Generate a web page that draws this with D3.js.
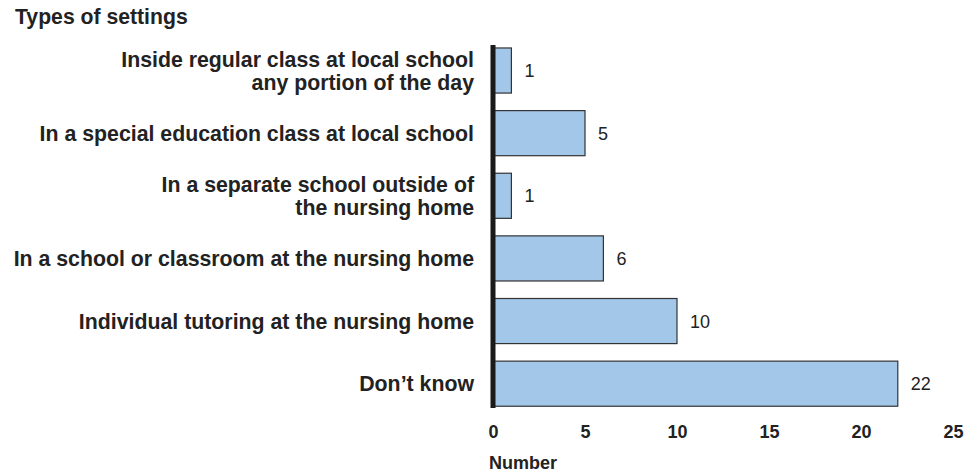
<!DOCTYPE html>
<html>
<head>
<meta charset="utf-8">
<script src="https://cdn.jsdelivr.net/npm/d3@7"></script>
<style>
  html, body { margin: 0; padding: 0; background: #fff; }
  svg { display: block; font-family: "Liberation Sans", Arial, Helvetica, sans-serif; }
</style>
</head>
<body>
<svg id="chart" width="978" height="472"></svg>
<script>
// Settings where children in nursing homes receive education
const categories = [
  ["Inside regular class at local school", "any portion of the day"],
  ["In a special education class at local school"],
  ["In a separate school outside of", "the nursing home"],
  ["In a school or classroom at the nursing home"],
  ["Individual tutoring at the nursing home"],
  ["Don\u2019t know"]
];
const values = [1, 5, 1, 6, 10, 22];
const xTicks = [0, 5, 10, 15, 20, 25];
const title = "Types of settings";
const xTitle = "Number";

const svg = d3.select("#chart");
const textColor = "#222";

const x = d3.scaleLinear().domain([0, 25]).range([493, 953]);
const y = d3.scaleBand()
  .domain(d3.range(categories.length))
  .range([39.2, 415])
  .paddingInner(0.28)
  .paddingOuter(0.14);

// Title
svg.append("text")
  .attr("x", 15).attr("y", 24)
  .attr("font-size", 21.2).attr("font-weight", "bold")
  .attr("fill", textColor)
  .text(title);

// Bars
svg.append("g").selectAll("rect")
  .data(values)
  .join("rect")
  .attr("x", x(0))
  .attr("y", (d, i) => y(i))
  .attr("width", d => x(d) - x(0))
  .attr("height", y.bandwidth())
  .attr("fill", "#a2c7e8")
  .attr("stroke", "#333")
  .attr("stroke-width", 1.2);

// Value labels
svg.append("g").selectAll("text")
  .data(values)
  .join("text")
  .attr("x", d => x(d) + 13)
  .attr("y", (d, i) => y(i) + y.bandwidth() / 2 + 6.5)
  .attr("font-size", 18)
  .attr("fill", textColor)
  .text(d => d);

// Category labels, right-aligned against the axis
const catG = svg.append("g");
categories.forEach((lines, i) => {
  const cy = y(i) + y.bandwidth() / 2;
  const lh = 23;
  const first = cy + 7.5 - (lines.length - 1) * lh / 2;
  const t = catG.append("text")
    .attr("text-anchor", "end")
    .attr("font-size", 21.3)
    .attr("font-weight", "bold")
    .attr("fill", textColor);
  lines.forEach((line, j) => {
    t.append("tspan").attr("x", 474).attr("y", first + j * lh).text(line);
  });
});

// Vertical axis line
svg.append("line")
  .attr("x1", x(0)).attr("x2", x(0))
  .attr("y1", 45).attr("y2", 408)
  .attr("stroke", "#1a1a1a")
  .attr("stroke-width", 5);

// X axis tick labels (no axis line or ticks)
const xAxis = d3.axisBottom(x).tickValues(xTicks).tickSize(0).tickPadding(0);
const gx = svg.append("g").attr("transform", "translate(0,425)").call(xAxis);
gx.select(".domain").remove();
gx.selectAll("text")
  .attr("font-size", 18)
  .attr("font-weight", "bold")
  .attr("font-family", "Liberation Sans, Arial, sans-serif")
  .attr("fill", textColor)
  .attr("dy", "0.71em");

// X axis title
svg.append("text")
  .attr("x", 489).attr("y", 469)
  .attr("font-size", 18).attr("font-weight", "bold")
  .attr("fill", textColor)
  .text(xTitle);
</script>
</body>
</html>
